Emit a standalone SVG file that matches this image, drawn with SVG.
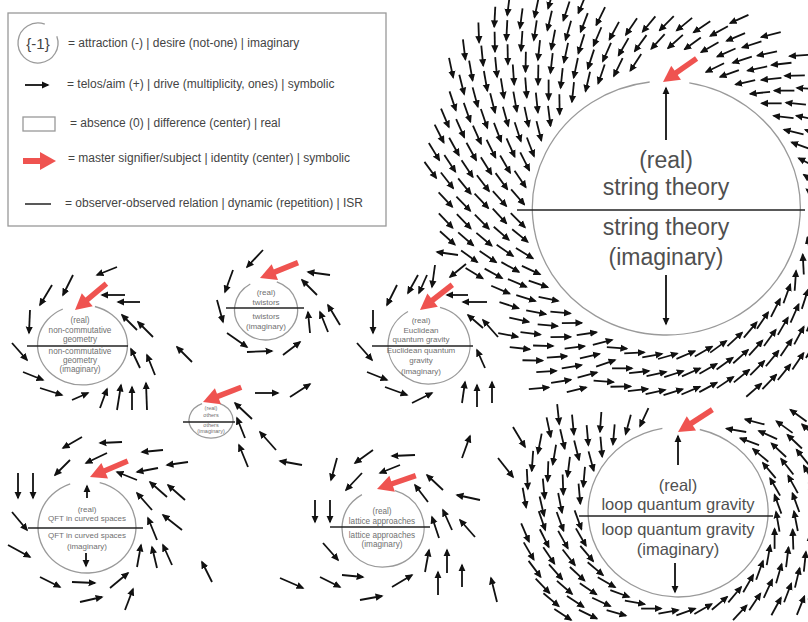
<svg xmlns="http://www.w3.org/2000/svg" width="808" height="622" viewBox="0 0 808 622">
<style>
.a{stroke:#111;stroke-width:1.8;fill:none;marker-end:url(#h)}
.c{fill:none;stroke:#9a9a9a;stroke-width:1.3}
.l{stroke:#222;stroke-width:1.4}
.rs{stroke:#ef5350;stroke-width:5.5}
.rh{fill:#ef5350}
text{font-family:"Liberation Sans",Arial,sans-serif}
.lg{font-size:12px;fill:#444}
.t{fill:#707070;text-anchor:middle}
.big{fill:#505050;text-anchor:middle}
</style>
<defs>
<marker id="h" viewBox="0 0 10 10" refX="8" refY="5" markerWidth="8" markerHeight="8" markerUnits="userSpaceOnUse" orient="auto"><path d="M0,0.5 L10,5 L0,9.5 z" fill="#111"/></marker>
<g id="ar"><line x1="-11" y1="0" x2="9" y2="0" class="a"/></g>
<g id="ra"><line x1="-41" y1="0" x2="-13" y2="0" class="rs"/><path d="M0 0 L-16 -8.5 L-16 8.5 Z" class="rh"/></g>
<use id="A1" href="#ar" transform="translate(148 0) rotate(-135)"/>
<use id="A2" href="#ar" transform="translate(148 0) rotate(-115)"/>
<use id="A3" href="#ar" transform="translate(148 0) rotate(-105)"/>
<use id="A4" href="#ar" transform="translate(148 0) rotate(-130)"/>
<use id="B1" href="#ar" transform="translate(166 0) rotate(-135)"/>
<use id="B2" href="#ar" transform="translate(166 0) rotate(-115)"/>
<use id="B3" href="#ar" transform="translate(166 0) rotate(-105)"/>
<use id="B4" href="#ar" transform="translate(166 0) rotate(-130)"/>
<use id="C1" href="#ar" transform="translate(184 0) rotate(-135)"/>
<use id="C3" href="#ar" transform="translate(184 0) rotate(-105)"/>
<use id="C4" href="#ar" transform="translate(184 0) rotate(-130)"/>
<use id="D1" href="#ar" transform="translate(202 0) rotate(-135)"/>
<use id="D3" href="#ar" transform="translate(202 0) rotate(-105)"/>
<use id="D4" href="#ar" transform="translate(202 0) rotate(-130)"/>
<use id="E1" href="#ar" transform="translate(220 0) rotate(-135)"/>
<use id="E4" href="#ar" transform="translate(220 0) rotate(-130)"/>
<use id="F1" href="#ar" transform="translate(238 0) rotate(-135)"/>
<use id="G1" href="#ar" transform="translate(256 0) rotate(-135)"/>
<use id="P1a" href="#ar" transform="translate(100 0) rotate(-135)"/>
<use id="P1b" href="#ar" transform="translate(100 0) rotate(-115)"/>
<use id="P1c" href="#ar" transform="translate(100 0) rotate(-105)"/>
<use id="P2a" href="#ar" transform="translate(118 0) rotate(-135)"/>
<use id="P2b" href="#ar" transform="translate(118 0) rotate(-115)"/>
<use id="P2c" href="#ar" transform="translate(118 0) rotate(-105)"/>
<use id="P3a" href="#ar" transform="translate(136 0) rotate(-135)"/>
<use id="P3c" href="#ar" transform="translate(136 0) rotate(-105)"/>
<use id="P4a" href="#ar" transform="translate(154 0) rotate(-135)"/>
<use id="P4c" href="#ar" transform="translate(154 0) rotate(-105)"/>
</defs>
<rect width="808" height="622" fill="#fff"/>

<g id="legend">
<rect x="8" y="13" width="378" height="213" fill="#fff" stroke="#999" stroke-width="1.3"/>
<path class="c" d="M56.8 36.2 A20 20 0 1 1 44.8 24.2"/>
<text x="38" y="48.5" font-size="15" fill="#444" text-anchor="middle">{-1}</text>
<text x="68" y="47" class="lg">= attraction (-) | desire (not-one) | imaginary</text>
<line x1="25" y1="85" x2="48" y2="85" class="a"/>
<text x="67" y="88" class="lg">= telos/aim (+) | drive (multiplicity, ones) | symbolic</text>
<rect x="23" y="117" width="32" height="14" fill="none" stroke="#999" stroke-width="1.3"/>
<text x="70" y="127" class="lg">= absence (0) | difference (center) | real</text>
<line x1="23" y1="161" x2="42" y2="161" stroke="#ef5350" stroke-width="6"/>
<path d="M56 161 L40 152 L40 170 Z" fill="#ef5350"/>
<text x="68" y="162" class="lg">= master signifier/subject | identity (center) | symbolic</text>
<line x1="25" y1="204" x2="51" y2="204" stroke="#222" stroke-width="1.5"/>
<text x="65" y="207" class="lg">= observer-observed relation | dynamic (repetition) | ISR</text>
</g>

<g id="node-string-theory">
<path class="c" d="M689.3 82.9 A134 127 0 1 1 649.7 82.0"/>
<line class="l" x1="517" y1="210" x2="805" y2="210"/>
<text class="big" x="666" y="168" font-size="23">(real)</text>
<text class="big" x="666" y="195" font-size="23">string theory</text>
<text class="big" x="666" y="235" font-size="23">string theory</text>
<text class="big" x="666" y="265" font-size="23">(imaginary)</text>
<use href="#ra" transform="translate(663 82) rotate(145)"/>
</g>

<g id="node-lqg">
<path class="c" d="M699.8 429.5 A90 85 0 1 1 662.4 428.3"/>
<line class="l" x1="579" y1="516" x2="773" y2="516"/>
<text class="big" x="678" y="491" font-size="16.5">(real)</text>
<text class="big" x="678" y="510" font-size="16.5">loop quantum gravity</text>
<text class="big" x="678" y="535" font-size="16.5">loop quantum gravity</text>
<text class="big" x="678" y="555" font-size="16.5">(imaginary)</text>
<use href="#ra" transform="translate(678 432) rotate(147)"/>
</g>

<g id="node-noncommutative">
<path class="c" d="M94.9 306.5 A45 40 0 1 1 62.8 309.0"/>
<line class="l" x1="27" y1="346" x2="128" y2="346"/>
<text class="t" x="80" y="323" font-size="8.2">(real)</text>
<text class="t" x="80" y="333" font-size="8.2">non-commutative</text>
<text class="t" x="80" y="342" font-size="8.2">geometry</text>
<text class="t" x="80" y="354" font-size="8.2">non-commutative</text>
<text class="t" x="80" y="363" font-size="8.2">geometry</text>
<text class="t" x="80" y="372" font-size="8.2">(imaginary)</text>
<use href="#ra" transform="translate(75 310) rotate(140)"/>
</g>

<g id="node-twistors">
<path class="c" d="M276.8 281.8 A31.5 30 0 1 1 250.3 284.0"/>
<line class="l" x1="226" y1="308" x2="304" y2="308"/>
<text class="t" x="266" y="295" font-size="8">(real)</text>
<text class="t" x="266" y="305" font-size="8">twistors</text>
<text class="t" x="266" y="319" font-size="8">twistors</text>
<text class="t" x="266" y="329" font-size="8">(imaginary)</text>
<use href="#ra" transform="translate(260 278) rotate(158)"/>
</g>

<g id="node-euclidean">
<path class="c" d="M440 307.4 A41 39 0 1 1 408 311.5"/>
<line class="l" x1="372" y1="346" x2="473" y2="346"/>
<text class="t" x="421" y="323" font-size="8">(real)</text>
<text class="t" x="421" y="333" font-size="8">Euclidean</text>
<text class="t" x="421" y="342" font-size="8">quantum gravity</text>
<text class="t" x="421" y="353" font-size="8">Euclidean quantum</text>
<text class="t" x="421" y="363" font-size="8">gravity</text>
<text class="t" x="421" y="374" font-size="8">(imaginary)</text>
<use href="#ra" transform="translate(420 310) rotate(142)"/>
</g>

<g id="node-others">
<path class="c" d="M219.9 403.6 A22 18 0 1 1 202.1 403.6"/>
<line class="l" x1="183" y1="422" x2="235" y2="422"/>
<text class="t" x="211" y="410" font-size="5.5">(real)</text>
<text class="t" x="211" y="416.5" font-size="5.5">others</text>
<text class="t" x="211" y="426.5" font-size="5.5">others</text>
<text class="t" x="211" y="433" font-size="5.5">(imaginary)</text>
<use href="#ra" transform="translate(203 402) rotate(159)"/>
</g>

<g id="node-qft">
<path class="c" d="M99.7 482.6 A49 46 0 1 1 70.2 483.8"/>
<line class="l" x1="28" y1="528" x2="143" y2="528"/>
<text class="t" x="87" y="512" font-size="8">(real)</text>
<text class="t" x="87" y="521" font-size="8">QFT in curved spaces</text>
<text class="t" x="87" y="538" font-size="8">QFT in curved spaces</text>
<text class="t" x="87" y="549" font-size="8">(imaginary)</text>
<use href="#ra" transform="translate(90 477) rotate(157)"/>
</g>

<g id="node-lattice">
<path class="c" d="M395.0 490.7 A41 39 0 1 1 361.9 494.6"/>
<line class="l" x1="330" y1="527" x2="430" y2="527"/>
<text class="t" x="382" y="514" font-size="8.2">(real)</text>
<text class="t" x="382" y="524" font-size="8.2">lattice approaches</text>
<text class="t" x="382" y="538" font-size="8.2">lattice approaches</text>
<text class="t" x="382" y="547" font-size="8.2">(imaginary)</text>
<use href="#ra" transform="translate(377 489) rotate(161)"/>
</g>

<g id="arrows">
<line class="a" x1="666" y1="140" x2="666" y2="88"/>
<line class="a" x1="666" y1="275" x2="666" y2="324"/>
<line class="a" x1="678" y1="465" x2="678" y2="436"/>
<line class="a" x1="675" y1="563" x2="675" y2="592"/>
<line class="a" x1="87" y1="498" x2="87" y2="486"/>
<line class="a" x1="86" y1="553" x2="86" y2="566"/>

<line class="a" x1="117" y1="267" x2="97" y2="275"/>
<line class="a" x1="73" y1="275" x2="63" y2="295"/>
<line class="a" x1="52" y1="285" x2="40" y2="305"/>
<line class="a" x1="125" y1="295" x2="102" y2="295"/>
<line class="a" x1="140" y1="302" x2="118" y2="302"/>
<line class="a" x1="30" y1="310" x2="29" y2="333"/>
<line class="a" x1="137" y1="330" x2="122" y2="315"/>
<line class="a" x1="153" y1="337" x2="138" y2="322"/>
<line class="a" x1="192" y1="362" x2="177" y2="347"/>
<line class="a" x1="12" y1="343" x2="27" y2="360"/>
<line class="a" x1="140" y1="368" x2="131" y2="349"/>
<line class="a" x1="155" y1="375" x2="147" y2="355"/>
<line class="a" x1="23" y1="372" x2="43" y2="380"/>
<line class="a" x1="40" y1="388" x2="62" y2="395"/>
<line class="a" x1="72" y1="400" x2="88" y2="393"/>
<line class="a" x1="100" y1="408" x2="107" y2="389"/>
<line class="a" x1="117" y1="410" x2="121" y2="385"/>
<line class="a" x1="132" y1="410" x2="132" y2="387"/>
<line class="a" x1="147" y1="410" x2="146" y2="383"/>

<line class="a" x1="263" y1="250" x2="247" y2="267"/>
<line class="a" x1="233" y1="270" x2="225" y2="292"/>
<line class="a" x1="330" y1="275" x2="308" y2="272"/>
<line class="a" x1="317" y1="295" x2="302" y2="280"/>
<line class="a" x1="217" y1="300" x2="223" y2="322"/>
<line class="a" x1="310" y1="333" x2="308" y2="312"/>
<line class="a" x1="328" y1="332" x2="320" y2="312"/>
<line class="a" x1="340" y1="325" x2="328" y2="305"/>
<line class="a" x1="227" y1="333" x2="247" y2="347"/>
<line class="a" x1="247" y1="352" x2="272" y2="351"/>
<line class="a" x1="283" y1="355" x2="300" y2="342"/>

<line class="a" x1="458" y1="255" x2="437" y2="252"/>
<line class="a" x1="435" y1="265" x2="432" y2="287"/>
<line class="a" x1="466" y1="264" x2="450" y2="277"/>
<line class="a" x1="418" y1="275" x2="408" y2="293"/>
<line class="a" x1="427" y1="275" x2="419" y2="293"/>
<line class="a" x1="397" y1="285" x2="387" y2="305"/>
<line class="a" x1="468" y1="295" x2="447" y2="295"/>
<line class="a" x1="487" y1="302" x2="463" y2="302"/>
<line class="a" x1="373" y1="310" x2="373" y2="333"/>
<line class="a" x1="483" y1="328" x2="468" y2="315"/>
<line class="a" x1="498" y1="337" x2="483" y2="320"/>
<line class="a" x1="357" y1="343" x2="372" y2="360"/>
<line class="a" x1="485" y1="368" x2="477" y2="350"/>
<line class="a" x1="367" y1="372" x2="387" y2="380"/>
<line class="a" x1="385" y1="387" x2="407" y2="395"/>
<line class="a" x1="412" y1="403" x2="432" y2="393"/>
<line class="a" x1="462" y1="403" x2="465" y2="382"/>
<line class="a" x1="477" y1="407" x2="477" y2="385"/>
<line class="a" x1="492" y1="403" x2="492" y2="382"/>

<line class="a" x1="255" y1="393" x2="278" y2="393"/>
<line class="a" x1="290" y1="397" x2="310" y2="384"/>
<line class="a" x1="252" y1="419" x2="235" y2="403"/>
<line class="a" x1="245" y1="438" x2="237" y2="418"/>
<line class="a" x1="248" y1="467" x2="239" y2="445"/>
<line class="a" x1="276" y1="450" x2="260" y2="432"/>

<line class="a" x1="82" y1="437" x2="63" y2="448"/>
<line class="a" x1="122" y1="442" x2="100" y2="443"/>
<line class="a" x1="163" y1="450" x2="142" y2="452"/>
<line class="a" x1="70" y1="460" x2="55" y2="475"/>
<line class="a" x1="107" y1="453" x2="86" y2="463"/>
<line class="a" x1="188" y1="462" x2="167" y2="465"/>
<line class="a" x1="158" y1="468" x2="137" y2="472"/>
<line class="a" x1="137" y1="480" x2="117" y2="472"/>
<line class="a" x1="18" y1="473" x2="18" y2="498"/>
<line class="a" x1="33" y1="473" x2="33" y2="498"/>
<line class="a" x1="167" y1="497" x2="150" y2="482"/>
<line class="a" x1="185" y1="500" x2="168" y2="485"/>
<line class="a" x1="152" y1="510" x2="137" y2="493"/>
<line class="a" x1="182" y1="530" x2="163" y2="515"/>
<line class="a" x1="12" y1="512" x2="27" y2="530"/>
<line class="a" x1="157" y1="540" x2="148" y2="518"/>
<line class="a" x1="8" y1="545" x2="30" y2="557"/>
<line class="a" x1="137" y1="567" x2="141" y2="545"/>
<line class="a" x1="157" y1="568" x2="152" y2="547"/>
<line class="a" x1="172" y1="565" x2="163" y2="545"/>
<line class="a" x1="212" y1="582" x2="202" y2="562"/>
<line class="a" x1="40" y1="577" x2="60" y2="587"/>
<line class="a" x1="72" y1="582" x2="95" y2="583"/>
<line class="a" x1="110" y1="588" x2="128" y2="573"/>
<line class="a" x1="80" y1="602" x2="102" y2="597"/>
<line class="a" x1="125" y1="610" x2="133" y2="589"/>

<line class="a" x1="373" y1="450" x2="355" y2="463"/>
<line class="a" x1="415" y1="455" x2="392" y2="456"/>
<line class="a" x1="400" y1="465" x2="380" y2="473"/>
<line class="a" x1="337" y1="458" x2="331" y2="480"/>
<line class="a" x1="362" y1="473" x2="346" y2="490"/>
<line class="a" x1="302" y1="465" x2="280" y2="461"/>
<line class="a" x1="443" y1="490" x2="427" y2="475"/>
<line class="a" x1="428" y1="502" x2="415" y2="485"/>
<line class="a" x1="480" y1="500" x2="457" y2="495"/>
<line class="a" x1="315" y1="500" x2="315" y2="522"/>
<line class="a" x1="330" y1="500" x2="330" y2="522"/>
<line class="a" x1="452" y1="530" x2="443" y2="510"/>
<line class="a" x1="439" y1="538" x2="432" y2="517"/>
<line class="a" x1="475" y1="537" x2="460" y2="520"/>
<line class="a" x1="323" y1="543" x2="338" y2="560"/>
<line class="a" x1="425" y1="572" x2="429" y2="550"/>
<line class="a" x1="447" y1="573" x2="447" y2="550"/>
<line class="a" x1="438" y1="595" x2="438" y2="572"/>
<line class="a" x1="462" y1="587" x2="462" y2="565"/>
<line class="a" x1="280" y1="578" x2="303" y2="588"/>
<line class="a" x1="320" y1="577" x2="340" y2="587"/>
<line class="a" x1="342" y1="575" x2="363" y2="577"/>
<line class="a" x1="392" y1="587" x2="412" y2="575"/>
<line class="a" x1="360" y1="600" x2="382" y2="596"/>
<line class="a" x1="462" y1="458" x2="470" y2="436"/>
<line class="a" x1="497" y1="602" x2="491" y2="578"/>
<line class="a" x1="513" y1="427" x2="525" y2="447"/>
<line class="a" x1="498" y1="458" x2="513" y2="477"/>

<g transform="translate(666 208)">
<use href="#A1" transform="rotate(-176)"/><use href="#A1" transform="rotate(-169)"/><use href="#A1" transform="rotate(-162)"/><use href="#A1" transform="rotate(-156)"/><use href="#A1" transform="rotate(-149)"/><use href="#A1" transform="rotate(-142)"/><use href="#A1" transform="rotate(-136)"/><use href="#A1" transform="rotate(-129)"/><use href="#A1" transform="rotate(-122)"/><use href="#A1" transform="rotate(-116)"/><use href="#A1" transform="rotate(-109)"/><use href="#A1" transform="rotate(-102)"/><use href="#A1" transform="rotate(-71)"/><use href="#A1" transform="rotate(-65)"/><use href="#A1" transform="rotate(-58)"/><use href="#A1" transform="rotate(-51)"/><use href="#A1" transform="rotate(-45)"/><use href="#A1" transform="rotate(-38)"/><use href="#A1" transform="rotate(-31)"/><use href="#A1" transform="rotate(-25)"/><use href="#A1" transform="rotate(-18)"/><use href="#A1" transform="rotate(-11)"/><use href="#A1" transform="rotate(-5)"/>
<use href="#A2" transform="rotate(2)"/><use href="#A2" transform="rotate(9)"/><use href="#A2" transform="rotate(15)"/><use href="#A2" transform="rotate(22)"/><use href="#A2" transform="rotate(29)"/>
<use href="#A3" transform="rotate(35)"/><use href="#A3" transform="rotate(42)"/><use href="#A3" transform="rotate(49)"/><use href="#A3" transform="rotate(55)"/><use href="#A3" transform="rotate(62)"/><use href="#A3" transform="rotate(69)"/><use href="#A3" transform="rotate(75)"/><use href="#A3" transform="rotate(82)"/><use href="#A3" transform="rotate(89)"/><use href="#A3" transform="rotate(95)"/><use href="#A3" transform="rotate(102)"/><use href="#A3" transform="rotate(109)"/>
<use href="#A4" transform="rotate(115)"/><use href="#A4" transform="rotate(122)"/><use href="#A4" transform="rotate(129)"/><use href="#A4" transform="rotate(135)"/><use href="#A4" transform="rotate(142)"/><use href="#A4" transform="rotate(149)"/><use href="#A4" transform="rotate(155)"/><use href="#A4" transform="rotate(162)"/><use href="#A4" transform="rotate(169)"/><use href="#A4" transform="rotate(175)"/>

<use href="#B1" transform="rotate(-177)"/><use href="#B1" transform="rotate(-171)"/><use href="#B1" transform="rotate(-165)"/><use href="#B1" transform="rotate(-159)"/><use href="#B1" transform="rotate(-153)"/><use href="#B1" transform="rotate(-147)"/><use href="#B1" transform="rotate(-141)"/><use href="#B1" transform="rotate(-135)"/><use href="#B1" transform="rotate(-129)"/><use href="#B1" transform="rotate(-123)"/><use href="#B1" transform="rotate(-117)"/><use href="#B1" transform="rotate(-111)"/><use href="#B1" transform="rotate(-105)"/><use href="#B1" transform="rotate(-99)"/><use href="#B1" transform="rotate(-93)"/><use href="#B1" transform="rotate(-87)"/><use href="#B1" transform="rotate(-81)"/><use href="#B1" transform="rotate(-75)"/><use href="#B1" transform="rotate(-69)"/><use href="#B1" transform="rotate(-63)"/><use href="#B1" transform="rotate(-57)"/><use href="#B1" transform="rotate(-51)"/><use href="#B1" transform="rotate(-45)"/><use href="#B1" transform="rotate(-39)"/><use href="#B1" transform="rotate(-33)"/><use href="#B1" transform="rotate(-27)"/>
<use href="#B2" transform="rotate(27)"/>
<use href="#B3" transform="rotate(33)"/><use href="#B3" transform="rotate(39)"/><use href="#B3" transform="rotate(45)"/><use href="#B3" transform="rotate(51)"/><use href="#B3" transform="rotate(57)"/><use href="#B3" transform="rotate(63)"/><use href="#B3" transform="rotate(69)"/><use href="#B3" transform="rotate(75)"/><use href="#B3" transform="rotate(81)"/><use href="#B3" transform="rotate(87)"/><use href="#B3" transform="rotate(93)"/><use href="#B3" transform="rotate(99)"/><use href="#B3" transform="rotate(105)"/>
<use href="#B4" transform="rotate(111)"/><use href="#B4" transform="rotate(117)"/><use href="#B4" transform="rotate(123)"/><use href="#B4" transform="rotate(129)"/><use href="#B4" transform="rotate(135)"/><use href="#B4" transform="rotate(141)"/><use href="#B4" transform="rotate(147)"/><use href="#B4" transform="rotate(153)"/><use href="#B4" transform="rotate(159)"/><use href="#B4" transform="rotate(165)"/><use href="#B4" transform="rotate(171)"/><use href="#B4" transform="rotate(177)"/>

<use href="#C1" transform="rotate(-178)"/><use href="#C1" transform="rotate(-172.5)"/><use href="#C1" transform="rotate(-167)"/><use href="#C1" transform="rotate(-161.5)"/><use href="#C1" transform="rotate(-156)"/><use href="#C1" transform="rotate(-150.5)"/><use href="#C1" transform="rotate(-145)"/><use href="#C1" transform="rotate(-139.5)"/><use href="#C1" transform="rotate(-134)"/><use href="#C1" transform="rotate(-128.5)"/><use href="#C1" transform="rotate(-123)"/><use href="#C1" transform="rotate(-117.5)"/><use href="#C1" transform="rotate(-112)"/><use href="#C1" transform="rotate(-106.5)"/><use href="#C1" transform="rotate(-101)"/><use href="#C1" transform="rotate(-95.5)"/><use href="#C1" transform="rotate(-90)"/><use href="#C1" transform="rotate(-84.5)"/><use href="#C1" transform="rotate(-79)"/><use href="#C1" transform="rotate(-73.5)"/><use href="#C1" transform="rotate(-68)"/><use href="#C1" transform="rotate(-62.5)"/><use href="#C1" transform="rotate(-57)"/><use href="#C1" transform="rotate(-51.5)"/><use href="#C1" transform="rotate(-46)"/><use href="#C1" transform="rotate(-40.5)"/>
<use href="#C3" transform="rotate(38)"/><use href="#C3" transform="rotate(43.5)"/><use href="#C3" transform="rotate(49)"/><use href="#C3" transform="rotate(54.5)"/><use href="#C3" transform="rotate(60)"/><use href="#C3" transform="rotate(65.5)"/><use href="#C3" transform="rotate(71)"/><use href="#C3" transform="rotate(76.5)"/><use href="#C3" transform="rotate(82)"/><use href="#C3" transform="rotate(87.5)"/><use href="#C3" transform="rotate(93)"/><use href="#C3" transform="rotate(98.5)"/><use href="#C3" transform="rotate(104)"/><use href="#C3" transform="rotate(109.5)"/>
<use href="#C4" transform="rotate(115)"/><use href="#C4" transform="rotate(120.5)"/><use href="#C4" transform="rotate(126)"/><use href="#C4" transform="rotate(131.5)"/><use href="#C4" transform="rotate(137)"/><use href="#C4" transform="rotate(142.5)"/><use href="#C4" transform="rotate(148)"/><use href="#C4" transform="rotate(153.5)"/><use href="#C4" transform="rotate(159)"/><use href="#C4" transform="rotate(164.5)"/><use href="#C4" transform="rotate(170)"/><use href="#C4" transform="rotate(175.5)"/>

<use href="#D1" transform="rotate(-179)"/><use href="#D1" transform="rotate(-174)"/><use href="#D1" transform="rotate(-169)"/><use href="#D1" transform="rotate(-164)"/><use href="#D1" transform="rotate(-159)"/><use href="#D1" transform="rotate(-154)"/><use href="#D1" transform="rotate(-149)"/><use href="#D1" transform="rotate(-144)"/><use href="#D1" transform="rotate(-139)"/><use href="#D1" transform="rotate(-134)"/><use href="#D1" transform="rotate(-129)"/><use href="#D1" transform="rotate(-124)"/><use href="#D1" transform="rotate(-119)"/><use href="#D1" transform="rotate(-114)"/><use href="#D1" transform="rotate(-109)"/><use href="#D1" transform="rotate(-69)"/><use href="#D1" transform="rotate(-59)"/><use href="#D1" transform="rotate(-49)"/>
<use href="#D3" transform="rotate(44)"/><use href="#D3" transform="rotate(49)"/><use href="#D3" transform="rotate(54)"/><use href="#D3" transform="rotate(59)"/><use href="#D3" transform="rotate(64)"/>
<use href="#D4" transform="rotate(116)"/><use href="#D4" transform="rotate(121)"/><use href="#D4" transform="rotate(126)"/><use href="#D4" transform="rotate(131)"/><use href="#D4" transform="rotate(136)"/><use href="#D4" transform="rotate(141)"/><use href="#D4" transform="rotate(161)"/><use href="#D4" transform="rotate(166)"/><use href="#D4" transform="rotate(171)"/><use href="#D4" transform="rotate(176)"/>

<use href="#E1" transform="rotate(-178)"/><use href="#E1" transform="rotate(-173)"/><use href="#E1" transform="rotate(-168.5)"/><use href="#E1" transform="rotate(-164)"/><use href="#E1" transform="rotate(-159)"/><use href="#E1" transform="rotate(-154.5)"/><use href="#E1" transform="rotate(-150)"/><use href="#E1" transform="rotate(-145)"/><use href="#E1" transform="rotate(-140.5)"/><use href="#E1" transform="rotate(-136)"/><use href="#E1" transform="rotate(-131)"/><use href="#E1" transform="rotate(-126.5)"/><use href="#E1" transform="rotate(-122)"/><use href="#E1" transform="rotate(-117)"/><use href="#E1" transform="rotate(-112.5)"/>
<use href="#E4" transform="rotate(125)"/><use href="#E4" transform="rotate(172)"/><use href="#E4" transform="rotate(176.5)"/>

<use href="#F1" transform="rotate(-171)"/><use href="#F1" transform="rotate(-166.5)"/><use href="#F1" transform="rotate(-162)"/><use href="#F1" transform="rotate(-158)"/><use href="#F1" transform="rotate(-153.5)"/><use href="#F1" transform="rotate(-149)"/><use href="#F1" transform="rotate(-145)"/><use href="#F1" transform="rotate(-140.5)"/><use href="#F1" transform="rotate(-136)"/><use href="#F1" transform="rotate(-132)"/><use href="#F1" transform="rotate(-127.5)"/><use href="#F1" transform="rotate(-123)"/><use href="#F1" transform="rotate(-119)"/>
<use href="#G1" transform="rotate(-147)"/><use href="#G1" transform="rotate(-142)"/><use href="#G1" transform="rotate(-137)"/><use href="#G1" transform="rotate(-132)"/><use href="#G1" transform="rotate(-128)"/>
</g>

<g transform="translate(678 512)">
<use href="#P1a" transform="rotate(-150)"/><use href="#P1a" transform="rotate(-140)"/><use href="#P1a" transform="rotate(-130)"/><use href="#P1a" transform="rotate(-120)"/><use href="#P1a" transform="rotate(-110)"/>
<use href="#P1b" transform="rotate(-55)"/><use href="#P1b" transform="rotate(-45)"/>
<use href="#P1c" transform="rotate(-170)"/><use href="#P1c" transform="rotate(-160)"/><use href="#P1c" transform="rotate(-35)"/><use href="#P1c" transform="rotate(-25)"/><use href="#P1c" transform="rotate(-15)"/><use href="#P1c" transform="rotate(-5)"/><use href="#P1c" transform="rotate(5)"/><use href="#P1c" transform="rotate(15)"/><use href="#P1c" transform="rotate(25)"/><use href="#P1c" transform="rotate(35)"/><use href="#P1c" transform="rotate(45)"/><use href="#P1c" transform="rotate(55)"/><use href="#P1c" transform="rotate(65)"/><use href="#P1c" transform="rotate(75)"/><use href="#P1c" transform="rotate(85)"/><use href="#P1c" transform="rotate(95)"/><use href="#P1c" transform="rotate(105)"/><use href="#P1c" transform="rotate(115)"/><use href="#P1c" transform="rotate(125)"/><use href="#P1c" transform="rotate(135)"/><use href="#P1c" transform="rotate(145)"/><use href="#P1c" transform="rotate(155)"/><use href="#P1c" transform="rotate(165)"/><use href="#P1c" transform="rotate(175)"/>
<use href="#P2a" transform="rotate(-149)"/><use href="#P2a" transform="rotate(-140)"/><use href="#P2a" transform="rotate(-131)"/>
<use href="#P2b" transform="rotate(-50)"/><use href="#P2b" transform="rotate(-41)"/>
<use href="#P2c" transform="rotate(-176)"/><use href="#P2c" transform="rotate(-167)"/><use href="#P2c" transform="rotate(-158)"/><use href="#P2c" transform="rotate(-32)"/><use href="#P2c" transform="rotate(-23)"/><use href="#P2c" transform="rotate(-14)"/><use href="#P2c" transform="rotate(-5)"/><use href="#P2c" transform="rotate(4)"/><use href="#P2c" transform="rotate(13)"/><use href="#P2c" transform="rotate(22)"/><use href="#P2c" transform="rotate(31)"/><use href="#P2c" transform="rotate(40)"/><use href="#P2c" transform="rotate(49)"/><use href="#P2c" transform="rotate(58)"/><use href="#P2c" transform="rotate(121)"/><use href="#P2c" transform="rotate(130)"/><use href="#P2c" transform="rotate(139)"/><use href="#P2c" transform="rotate(148)"/><use href="#P2c" transform="rotate(157)"/><use href="#P2c" transform="rotate(166)"/><use href="#P2c" transform="rotate(175)"/>
<use href="#P3a" transform="rotate(-148)"/><use href="#P3a" transform="rotate(-140.5)"/>
<use href="#P3c" transform="rotate(-178)"/><use href="#P3c" transform="rotate(-170.5)"/><use href="#P3c" transform="rotate(-163)"/><use href="#P3c" transform="rotate(-155.5)"/><use href="#P3c" transform="rotate(-39)"/><use href="#P3c" transform="rotate(-31.5)"/><use href="#P3c" transform="rotate(-24)"/><use href="#P3c" transform="rotate(-16.5)"/><use href="#P3c" transform="rotate(-9)"/><use href="#P3c" transform="rotate(-1.5)"/><use href="#P3c" transform="rotate(6)"/><use href="#P3c" transform="rotate(13.5)"/><use href="#P3c" transform="rotate(21)"/><use href="#P3c" transform="rotate(28.5)"/><use href="#P3c" transform="rotate(36)"/><use href="#P3c" transform="rotate(43.5)"/><use href="#P3c" transform="rotate(131)"/><use href="#P3c" transform="rotate(138.5)"/><use href="#P3c" transform="rotate(146)"/><use href="#P3c" transform="rotate(153.5)"/><use href="#P3c" transform="rotate(161)"/><use href="#P3c" transform="rotate(168.5)"/><use href="#P3c" transform="rotate(176)"/>
<use href="#P4a" transform="rotate(-147)"/><use href="#P4a" transform="rotate(-141)"/>
<use href="#P4c" transform="rotate(-175)"/><use href="#P4c" transform="rotate(-168)"/><use href="#P4c" transform="rotate(-161)"/><use href="#P4c" transform="rotate(-154)"/><use href="#P4c" transform="rotate(-39)"/><use href="#P4c" transform="rotate(-32)"/><use href="#P4c" transform="rotate(30)"/><use href="#P4c" transform="rotate(37)"/><use href="#P4c" transform="rotate(138)"/><use href="#P4c" transform="rotate(145)"/><use href="#P4c" transform="rotate(151)"/><use href="#P4c" transform="rotate(158)"/><use href="#P4c" transform="rotate(165)"/><use href="#P4c" transform="rotate(172)"/>
</g>
</g>
</svg>
